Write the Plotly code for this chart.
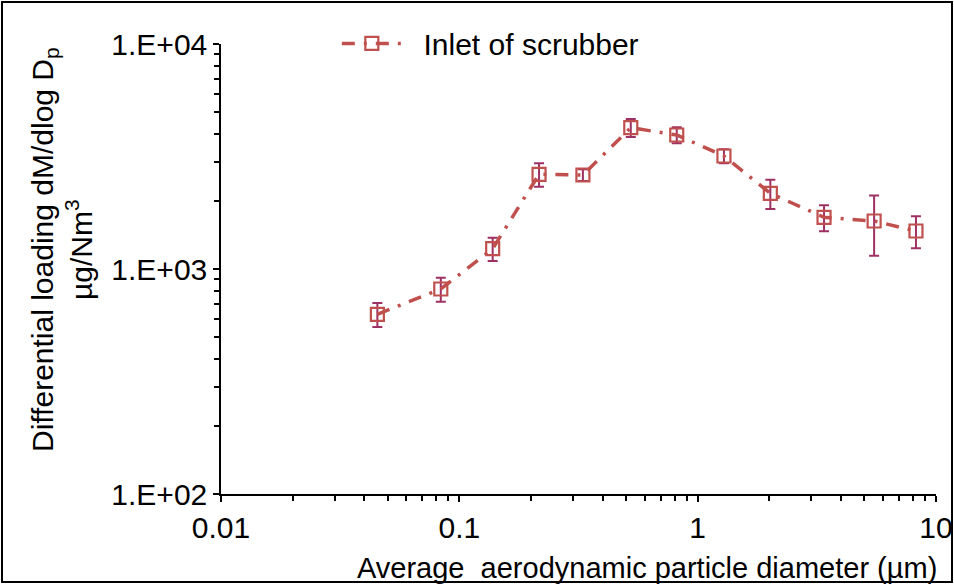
import plotly.graph_objects as go

# Data
diameter_um = [0.0453, 0.0836, 0.138, 0.216, 0.330, 0.524, 0.817, 1.289, 2.018, 3.39, 5.50, 8.24]
loading = [629, 815, 1231, 2636, 2617, 4246, 3941, 3178, 2170, 1697, 1634, 1475]
loading_err = [77, 100, 147, 314, 157, 390, 322, 227, 320, 225, 490, 240]

y_tickvals = [100, 1000, 10000]
y_ticktext = ["1.E+02", "1.E+03", "1.E+04"]
x_tickvals = [0.01, 0.1, 1, 10]
x_ticktext = ["0.01", "0.1", "1", "10"]
series_name = "Inlet of scrubber"

FONT = "Liberation Sans, Arial, sans-serif"
FS = 30
W, H = 954, 584
L, R, T, B = 221, 18, 44, 90
PW, PH = W - L - R, H - T - B

y_minor = [m * 10 ** e for e in (2, 3) for m in range(2, 10)]
x_minor = [m * 10 ** e for e in (-2, -1, 0) for m in range(2, 10)]

fig = go.Figure()
fig.add_trace(go.Scatter(
    x=diameter_um, y=loading, name="\u00a0\u00a0" + series_name, mode="lines+markers",
    line=dict(color="#C0504D", width=3.5, dash="13px,9px,3px,9px"),
    marker=dict(symbol="square-open", size=13, color="#C0504D", line=dict(width=2.2, color="#C0504D")),
    error_y=dict(type="data", array=loading_err, visible=True, color="#9E3163", thickness=2, width=5),
))

axis_common = dict(
    type="log", showline=True, linecolor="black", linewidth=1.5, showgrid=False, zeroline=False,
    ticks="outside", ticklen=6, tickwidth=1.5, tickcolor="black", automargin=False,
    tickfont=dict(family=FONT, size=FS, color="black"), tickmode="array",
)
fig.update_xaxes(range=[-2, 1], tickvals=x_tickvals, ticktext=x_ticktext,
                 minor=dict(tickmode="array", tickvals=x_minor, ticks="outside", ticklen=5, tickwidth=1.5, tickcolor="black"),
                 **axis_common)
fig.update_yaxes(range=[2, 4], tickvals=y_tickvals, ticktext=y_ticktext,
                 minor=dict(tickmode="array", tickvals=y_minor, ticks="outside", ticklen=5, tickwidth=1.5, tickcolor="black"),
                 **axis_common)

fig.add_annotation(
    text="Differential loading dM/dlog D<sub>p</sub><br>µg/Nm<sup>3</sup>",
    xref="paper", yref="paper", x=(62 - L) / PW, y=(494 - 250) / PH,
    xanchor="center", yanchor="middle", textangle=-90, showarrow=False,
    font=dict(family=FONT, size=FS, color="black"),
)
fig.add_annotation(
    text="Average  aerodynamic particle diameter (µm)",
    xref="paper", yref="paper", x=(647 - L) / PW, y=-(568 - 494) / PH,
    xanchor="center", yanchor="middle", showarrow=False,
    font=dict(family=FONT, size=29, color="black"),
)
fig.add_shape(type="rect", xref="paper", yref="paper",
              x0=(2 - L) / PW, x1=(952 - L) / PW, y0=(494 - 582) / PH, y1=(494 - 2) / PH,
              line=dict(color="black", width=2), layer="above")

fig.update_layout(
    width=W, height=H, margin=dict(l=L, r=R, t=T, b=B, autoexpand=False),
    paper_bgcolor="white", plot_bgcolor="white",
    showlegend=True,
    legend=dict(x=0.162, y=1.059, xanchor="left", yanchor="top", bgcolor="rgba(0,0,0,0)",
                itemwidth=60, font=dict(family=FONT, size=FS, color="black")),
)
fig.write_html("out.html", config={"displayModeBar": False},
               post_script="document.body.style.margin='0';document.body.style.overflow='hidden';")
